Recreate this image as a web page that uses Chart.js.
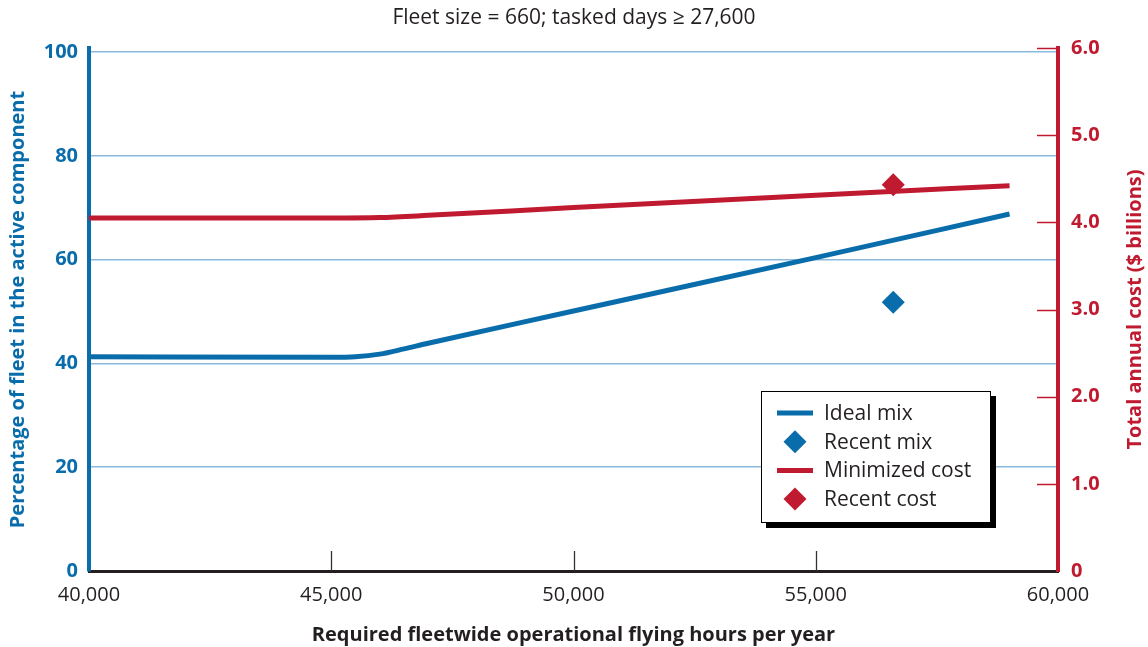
<!DOCTYPE html>
<html><head><meta charset="utf-8">
<script src="https://cdn.jsdelivr.net/npm/chart.js@4/dist/chart.umd.min.js"></script>
<style>html,body{margin:0;padding:0;background:#fff}#wrap{width:1148px;height:647px;position:relative}</style>
</head><body><div id="wrap"><canvas id="c" width="1148" height="647"></canvas></div>
<script>
// ---- data ----
const idealHours = [40000, 45000, 45500, 46000, 46500, 47000, 50000, 55000, 59000];
const idealMix   = [41.3, 41.2, 41.3, 41.8, 42.8, 43.9, 50.1, 60.4, 68.8];
const costHours  = [40000, 45000, 46000, 47000, 50000, 55000, 59000];
const minCost    = [4.05, 4.05, 4.055, 4.08, 4.17, 4.31, 4.42];
const recentHours = [56600];
const recentMix   = [51.8];
const recentCost  = [4.43];
const xTickValues = [40000, 45000, 50000, 55000, 60000];
const leftTickValues = [0, 20, 40, 60, 80, 100];
const rightTickValues = [0, 1, 2, 3, 4, 5, 6];
const titleText = 'Fleet size = 660; tasked days \u2265 27,600';
const xTitle = 'Required fleetwide operational flying hours per year';
const yTitle = 'Percentage of fleet in the active component';
const y2Title = 'Total annual cost ($ billions)';

const BLUE = '#0a6dab', RED = '#c01a30', GRID = '#8cb9de', TXT = '#231f20';
const FAMILY = "'Open Sans', sans-serif";
Chart.defaults.font.family = FAMILY;

const pts = (xs, ys) => xs.map((x, i) => ({x, y: ys[i]}));

const extras = {
  id: 'extras',
  afterDraw(chart) {
    const {ctx, chartArea: a, scales} = chart;
    ctx.save();
    // inward x tick marks
    ctx.strokeStyle = '#333'; ctx.lineWidth = 1.3;
    xTickValues.slice(1, -1).forEach(v => {
      const px = Math.round(scales.x.getPixelForValue(v)) + 0.5;
      ctx.beginPath(); ctx.moveTo(px, a.bottom - 20); ctx.lineTo(px, a.bottom); ctx.stroke();
    });
    // inward right ticks
    ctx.strokeStyle = RED; ctx.lineWidth = 1.5;
    rightTickValues.slice(1).forEach(v => {
      const py = Math.round(scales.y2.getPixelForValue(v)) + 0.5;
      ctx.beginPath(); ctx.moveTo(a.right - 21, py); ctx.lineTo(a.right, py); ctx.stroke();
    });
    // right title, reading bottom to top
    ctx.fillStyle = RED; ctx.font = "bold 20px " + FAMILY;
    ctx.textAlign = 'center'; ctx.textBaseline = 'middle';
    ctx.translate(1135, (a.top + a.bottom) / 2);
    ctx.rotate(-Math.PI / 2);
    ctx.fillText(y2Title, 0, 0);
    ctx.restore();

    // legend
    ctx.save();
    const bx = 761, by = 391, bw = 230, bh = 132;
    ctx.fillStyle = '#000'; ctx.fillRect(bx + 5, by + 5, bw, bh);
    ctx.fillStyle = '#fff'; ctx.fillRect(bx, by, bw, bh);
    ctx.strokeStyle = '#000'; ctx.lineWidth = 1; ctx.strokeRect(bx + 0.5, by + 0.5, bw - 1, bh - 1);
    const ds = chart.data.datasets;
    ctx.font = "21px " + FAMILY; ctx.textBaseline = 'middle'; ctx.textAlign = 'left';
    ds.forEach((d, i) => {
      const cy = 413 + i * 28.7;
      if (d.showLine === false) {
        const r = 11.5;
        ctx.fillStyle = d.backgroundColor;
        ctx.beginPath(); ctx.moveTo(795, cy - r); ctx.lineTo(795 + r, cy); ctx.lineTo(795, cy + r); ctx.lineTo(795 - r, cy); ctx.closePath(); ctx.fill();
      } else {
        ctx.strokeStyle = d.borderColor; ctx.lineWidth = 5; ctx.lineCap = 'butt';
        ctx.beginPath(); ctx.moveTo(777, cy); ctx.lineTo(813, cy); ctx.stroke();
      }
      ctx.fillStyle = TXT;
      ctx.fillText(d.label, 824, cy + 1);
    });
    ctx.restore();
  }
};

new Chart(document.getElementById('c'), {
  type: 'line',
  data: {
    datasets: [
      {label: 'Ideal mix', data: pts(idealHours, idealMix), yAxisID: 'y', borderColor: BLUE, backgroundColor: BLUE,
       borderWidth: 5, pointRadius: 0, cubicInterpolationMode: 'monotone', borderCapStyle: 'butt', order: 1},
      {label: 'Recent mix', data: pts(recentHours, recentMix), yAxisID: 'y', showLine: false, pointStyle: 'rectRot',
       pointRadius: 11.5, backgroundColor: BLUE, borderColor: BLUE, borderWidth: 0, order: 0},
      {label: 'Minimized cost', data: pts(costHours, minCost), yAxisID: 'y2', borderColor: RED, backgroundColor: RED,
       borderWidth: 5, pointRadius: 0, cubicInterpolationMode: 'monotone', borderCapStyle: 'butt', order: 1},
      {label: 'Recent cost', data: pts(recentHours, recentCost), yAxisID: 'y2', showLine: false, pointStyle: 'rectRot',
       pointRadius: 11.5, backgroundColor: RED, borderColor: RED, borderWidth: 0, order: 0}
    ]
  },
  options: {
    responsive: false, animation: false, devicePixelRatio: 1,
    layout: {padding: 0},
    plugins: {
      legend: {display: false}, tooltip: {enabled: false},
      title: {display: true, text: titleText, color: TXT, font: {size: 21, weight: 'normal', lineHeight: 1.2}, padding: {top: 5, bottom: 17.8}}
    },
    scales: {
      x: {
        type: 'linear', min: 40000, max: 60000,
        afterBuildTicks: s => { s.ticks = xTickValues.map(v => ({value: v})); },
        afterFit: s => { s.height = 76; },
        ticks: {callback: v => v.toLocaleString('en-US'), color: TXT, font: {size: 20}, padding: 12, maxRotation: 0, autoSkip: false},
        grid: {display: false, drawTicks: false},
        border: {display: true, color: '#231f20', width: 3},
        title: {display: true, text: xTitle, color: TXT, font: {size: 20, weight: 'bold', lineHeight: 1.2}, padding: {top: 0, bottom: 0}}
      },
      y: {
        position: 'left', min: 0, max: 100.8,
        afterBuildTicks: s => { s.ticks = leftTickValues.map(v => ({value: v})); },
        afterFit: s => { s.width = 89; },
        ticks: {color: BLUE, font: {size: 20, weight: 'bold'}, padding: 11},
        grid: {color: c => (c.tick && c.tick.value === 0) ? 'rgba(0,0,0,0)' : GRID, lineWidth: 1.5, drawTicks: false},
        border: {display: true, color: BLUE, width: 4},
        title: {display: true, text: yTitle, color: BLUE, font: {size: 20, weight: 'bold', lineHeight: 1.2}, padding: {top: 6, bottom: 0}}
      },
      y2: {
        position: 'right', min: 0, max: 6,
        afterBuildTicks: s => { s.ticks = rightTickValues.map(v => ({value: v})); },
        afterFit: s => { s.width = 90; },
        ticks: {color: RED, font: {size: 20, weight: 'bold'}, padding: 13, callback: v => v === 0 ? '0' : v.toFixed(1)},
        grid: {display: false, drawTicks: false},
        border: {display: true, color: RED, width: 4}
      }
    }
  },
  plugins: [extras]
});
</script></body></html>
